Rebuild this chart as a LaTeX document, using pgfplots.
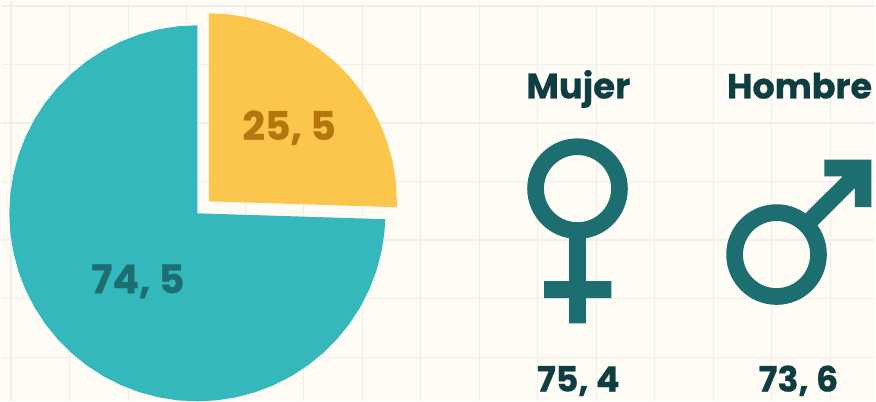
\documentclass[border=0pt]{standalone}
\usepackage{pgfplots}
\pgfplotsset{compat=1.18}
\usepackage{fontspec}
\setmainfont{Poppins}[BoldFeatures={FakeBold=0.5}]
\definecolor{bg}{HTML}{FFFCF6}
\definecolor{gridc}{HTML}{F0EEE9}
\definecolor{tealA}{HTML}{34B8BC}
\definecolor{yellowA}{HTML}{FCC54B}
\definecolor{symb}{HTML}{1C6E70}
\definecolor{darkT}{HTML}{0E3D42}
\definecolor{yellowD}{HTML}{B5760E}
\newcommand{\fs}[1]{\fontsize{#1}{#1}\selectfont\bfseries}
\begin{document}
\begin{tikzpicture}
\begin{axis}[
  scale only axis, width=876pt, height=401pt,
  xmin=0, xmax=876, ymin=-401, ymax=0,
  axis line style={draw=none},
  tick style={draw=none},
  xticklabels={}, yticklabels={},
  tick label style={overlay},
  xtick={10.5,69.1,127.7,186.3,244.9,303.5,362.1,420.7,479.3,537.9,596.5,655.1,713.7,772.3,830.9},
  ytick={-5.5,-64,-122.6,-181.2,-239.8,-298.4,-357},
  grid=major, grid style={gridc, line width=1.2pt},
  axis background/.style={fill=bg},
]
% teal wedge 74.5
\addplot[fill=tealA, draw=none, data cs=polar, shift={(axis direction cs:197,-213)}] coordinates {
 (0,0) (90,188.3) (96,188.3) (102,188.3) (108,188.3) (114,188.3) (120,188.3) (126,188.3) (132,188.3) (138,188.3) (144,188.3) (150,188.3) (156,188.3) (162,188.3) (168,188.3) (174,188.3) (180,188.3) (186,188.3) (192,188.3) (198,188.3) (204,188.3) (210,188.3) (216,188.3) (222,188.3) (228,188.3) (234,188.3) (240,188.3) (246,188.3) (252,188.3) (258,188.3) (264,188.3) (270,188.3) (276,188.3) (282,188.3) (288,188.3) (294,188.3) (300,188.3) (306,188.3) (312,188.3) (318,188.3) (324,188.3) (330,188.3) (336,188.3) (342,188.3) (348,188.3) (354,188.3) (358.2,188.3) (0,0)};
% yellow wedge 25.5
\addplot[fill=yellowA, draw=none, data cs=polar, shift={(axis direction cs:208.5,-201)}] coordinates {
 (0,0) (90,188.3) (84,188.3) (78,188.3) (72,188.3) (66,188.3) (60,188.3) (54,188.3) (48,188.3) (42,188.3) (36,188.3) (30,188.3) (24,188.3) (18,188.3) (12,188.3) (6,188.3) (0,188.3) (-1.8,188.3) (0,0)};
% female symbol
\addplot[only marks, mark=o, mark size=42pt, mark options={draw=symb, line width=16.7pt}] coordinates {(577.7,-188.3)};
\addplot[fill=symb, draw=none] coordinates {(569.4,-236) (586,-236) (586,-281) (611.7,-281) (611.7,-298) (586,-298) (586,-323.3) (569.4,-323.3) (569.4,-298) (544.3,-298) (544.3,-281) (569.4,-281) (569.4,-236)};
% male symbol
\addplot[only marks, mark=o, mark size=42pt, mark options={draw=symb, line width=16.7pt}] coordinates {(777,-254.3)};
\addplot[fill=symb, draw=none] coordinates {(825,-159.3) (872,-159.3) (872,-206.7) (855.5,-206.7) (855.5,-187.7) (816,-227) (804,-215) (843.3,-176) (825,-176) (825,-159.3)};
% labels
\node[anchor=base, text=yellowD] at (axis cs:289,-139.5) {\fs{39.5}25, 5};
\node[anchor=base, text=symb] at (axis cs:137.5,-293) {\fs{39.5}74, 5};
\node[anchor=base, text=darkT] at (axis cs:578.5,-98) {\fs{35.5}Mujer};
\node[anchor=base, text=darkT] at (axis cs:800,-98) {\fs{35}Hombre};
\node[anchor=base, text=darkT] at (axis cs:578.5,-391.5) {\fs{35}75, 4};
\node[anchor=base, text=darkT] at (axis cs:799,-391.5) {\fs{35}73, 6};
\end{axis}
\end{tikzpicture}
\end{document}
